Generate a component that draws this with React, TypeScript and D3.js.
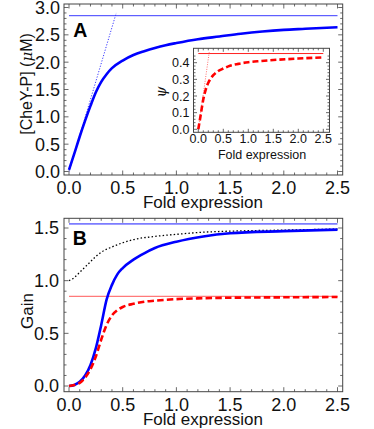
import React from 'react';
import { scaleLinear, line, curveMonotoneX, range, format } from 'd3';

// tick labels
const xTicks = [0, 0.5, 1, 1.5, 2, 2.5];
const yTicksA = [0, 0.5, 1, 1.5, 2, 2.5, 3];
const yTicksInset = [0, 0.1, 0.2, 0.3, 0.4];
const yTicksB = [0, 0.5, 1, 1.5];

// panel A: [CheY-P] vs fold expression
const foldA = [0, 0.05, 0.1, 0.15, 0.2, 0.25, 0.3, 0.35, 0.4, 0.5, 0.6, 0.7, 0.8, 0.9, 1.0, 1.2, 1.4, 1.6, 1.8, 2.0, 2.2, 2.5];
const cheyP = [0.03, 0.33, 0.64, 0.93, 1.2, 1.45, 1.64, 1.78, 1.89, 2.03, 2.13, 2.2, 2.26, 2.31, 2.35, 2.42, 2.47, 2.52, 2.56, 2.59, 2.61, 2.64];
const cheyPMax = 2.85;
const tangentA = [[0, 0], [0.44, 2.9]];

// inset: psi
const foldInset = [0, 0.05, 0.1, 0.15, 0.2, 0.25, 0.3, 0.4, 0.5, 0.6, 0.8, 1.0, 1.25, 1.5, 2.0, 2.5];
const psi = [0.0, 0.09, 0.18, 0.24, 0.28, 0.305, 0.325, 0.35, 0.365, 0.378, 0.393, 0.403, 0.41, 0.416, 0.425, 0.432];
const psiMax = 0.455;
const tangentInset = [[0, 0], [0.22, 0.466]];

// panel B: gain
const foldB = [0, 0.05, 0.1, 0.15, 0.2, 0.25, 0.3, 0.35, 0.4, 0.45, 0.5, 0.6, 0.7, 0.8, 1.0, 1.25, 1.5, 2.0, 2.5];
const gainBlue = [0.0, 0.01, 0.04, 0.1, 0.2, 0.36, 0.58, 0.82, 0.96, 1.06, 1.12, 1.2, 1.26, 1.31, 1.37, 1.42, 1.45, 1.47, 1.485];
const gainRed = [0.0, 0.01, 0.03, 0.08, 0.16, 0.28, 0.44, 0.58, 0.67, 0.72, 0.75, 0.78, 0.8, 0.81, 0.825, 0.833, 0.838, 0.842, 0.845];
const foldBlack = [0, 0.05, 0.1, 0.15, 0.2, 0.25, 0.3, 0.4, 0.5, 0.6, 0.8, 1.0, 1.25, 1.5, 2.0, 2.5];
const gainBlack = [1.0, 1.03, 1.08, 1.13, 1.18, 1.23, 1.27, 1.32, 1.36, 1.39, 1.42, 1.44, 1.46, 1.47, 1.48, 1.49];
const gainBlueMax = 1.54;
const gainRedMax = 0.85;

const FONT = '"Liberation Sans", Arial, sans-serif';
const FRAME = '#444';
const fmt = format('.1f');

function Frame({ box, xs, ys, xMajor, xMinor, yMajor, yMinor, big, small }) {
  const [l, r, t, b] = box;
  const tk = [];
  xMinor.forEach((v, i) => {
    const len = xMajor.some((m) => Math.abs(m - v) < 1e-9) ? big : small;
    tk.push(<line key={'xb' + i} x1={xs(v)} x2={xs(v)} y1={b} y2={b - len} />);
    tk.push(<line key={'xt' + i} x1={xs(v)} x2={xs(v)} y1={t} y2={t + len} />);
  });
  yMinor.forEach((v, i) => {
    const len = yMajor.some((m) => Math.abs(m - v) < 1e-9) ? big : small;
    tk.push(<line key={'yl' + i} x1={l} x2={l + len} y1={ys(v)} y2={ys(v)} />);
    tk.push(<line key={'yr' + i} x1={r} x2={r - len} y1={ys(v)} y2={ys(v)} />);
  });
  return (
    <g stroke={FRAME} strokeWidth={0.8} fill="none">
      {tk}
      <rect x={l} y={t} width={r - l} height={b - t} strokeWidth={1} />
    </g>
  );
}

function pathOf(xsArr, ysArr, xs, ys) {
  const gen = line().x((d) => xs(d[0])).y((d) => ys(d[1])).curve(curveMonotoneX);
  return gen(xsArr.map((x, i) => [x, ysArr[i]]));
}

export default function App() {
  // panel A scales
  const xA = scaleLinear().domain([0, 2.5]).range([69, 337.5]);
  const yA = scaleLinear().domain([0, 3]).range([171.5, 7.5]);
  const boxA = [64, 342.7, 4, 175];

  // inset scales
  const xI = scaleLinear().domain([0, 2.5]).range([198.3, 323.3]);
  const yI = scaleLinear().domain([0, 0.4]).range([129.3, 62.7]);
  const boxI = [193.5, 329.5, 48.3, 132.3];

  // panel B scales
  const xB = scaleLinear().domain([0, 2.5]).range([69, 337.5]);
  const yB = scaleLinear().domain([0, 1.5]).range([386, 228]);
  const boxB = [64, 342.7, 218.3, 391.7];

  const xMinor = range(0, 2.5001, 0.1);

  return (
    <svg width={374} height={429} style={{ position: 'absolute', left: 0, top: 0, background: '#fff' }}>
      <defs>
        <clipPath id="clipA"><rect x={boxA[0]} y={boxA[2]} width={boxA[1] - boxA[0]} height={boxA[3] - boxA[2]} /></clipPath>
        <clipPath id="clipI"><rect x={boxI[0]} y={boxI[2]} width={boxI[1] - boxI[0]} height={boxI[3] - boxI[2]} /></clipPath>
        <clipPath id="clipB"><rect x={boxB[0]} y={boxB[2]} width={boxB[1] - boxB[0]} height={boxB[3] - boxB[2]} /></clipPath>
      </defs>

      {/* ---------- panel A ---------- */}
      <g clipPath="url(#clipA)" fill="none">
        <line x1={xA(0)} x2={xA(2.5)} y1={yA(cheyPMax)} y2={yA(cheyPMax)} stroke="#3a3aff" strokeWidth={1} />
        <line x1={xA(tangentA[0][0])} y1={yA(tangentA[0][1])} x2={xA(tangentA[1][0])} y2={yA(tangentA[1][1])}
          stroke="#3a3aff" strokeWidth={1} strokeDasharray="1.2,1.6" />
        <path d={pathOf(foldA, cheyP, xA, yA)} stroke="#0000ff" strokeWidth={2.6} />
      </g>
      <Frame box={boxA} xs={xA} ys={yA} xMajor={xTicks} xMinor={xMinor} yMajor={yTicksA}
        yMinor={range(0, 3.0001, 0.1)} big={4.5} small={2.5} />
      <g fontFamily={FONT} fontSize={18} fill="#111">
        {xTicks.map((v) => (
          <text key={'ax' + v} x={xA(v)} y={194} textAnchor="middle">{fmt(v)}</text>
        ))}
        {yTicksA.map((v) => (
          <text key={'ay' + v} x={60} y={yA(v)} dy="0.36em" textAnchor="end">{fmt(v)}</text>
        ))}
      </g>
      <text x={203} y={208} textAnchor="middle" fontFamily={FONT} fontSize={17} fill="#111">Fold expression</text>
      <text transform="translate(31.5,84) rotate(-90)" textAnchor="middle" fontFamily={FONT} fontSize={16} fill="#111">
        [CheY-P] (<tspan fontStyle="italic" fontFamily='"DejaVu Serif", serif' fontSize={15}>μ</tspan>M)
      </text>
      <text x={73.3} y={36.7} fontFamily={FONT} fontSize={19.5} fontWeight="bold" fill="#000">A</text>

      {/* ---------- inset ---------- */}
      <rect x={boxI[0]} y={boxI[2]} width={boxI[1] - boxI[0]} height={boxI[3] - boxI[2]} fill="#fff" />
      <g clipPath="url(#clipI)" fill="none">
        <line x1={xI(0)} x2={xI(2.5)} y1={yI(psiMax)} y2={yI(psiMax)} stroke="#ff2020" strokeWidth={1} />
        <line x1={xI(tangentInset[0][0])} y1={yI(tangentInset[0][1])} x2={xI(tangentInset[1][0])} y2={yI(tangentInset[1][1])}
          stroke="#ff6060" strokeWidth={0.9} strokeDasharray="1,1.4" />
        <path d={pathOf(foldInset, psi, xI, yI)} stroke="#ff0000" strokeWidth={2.6} strokeDasharray="6,3" />
      </g>
      <Frame box={boxI} xs={xI} ys={yI} xMajor={xTicks} xMinor={xMinor} yMajor={yTicksInset}
        yMinor={range(0, 0.4501, 0.02)} big={3.5} small={2} />
      <g fontFamily={FONT} fontSize={12.5} fill="#111">
        {xTicks.map((v) => (
          <text key={'ix' + v} x={xI(v)} y={143.3} textAnchor="middle">{fmt(v)}</text>
        ))}
        {yTicksInset.map((v) => (
          <text key={'iy' + v} x={189.5} y={yI(v)} dy="0.36em" textAnchor="end">{fmt(v)}</text>
        ))}
      </g>
      <text x={262} y={158.5} textAnchor="middle" fontFamily={FONT} fontSize={12.5} fill="#111">Fold expression</text>
      <text transform="translate(166,92) rotate(-90)" textAnchor="middle" fontFamily='"DejaVu Serif", serif'
        fontStyle="italic" fontSize={14} fill="#111">ψ</text>

      {/* ---------- panel B ---------- */}
      <g clipPath="url(#clipB)" fill="none">
        <line x1={xB(0)} x2={xB(2.5)} y1={yB(gainBlueMax)} y2={yB(gainBlueMax)} stroke="#7c7cff" strokeWidth={1.8} />
        <line x1={xB(0)} x2={xB(2.5)} y1={yB(gainRedMax)} y2={yB(gainRedMax)} stroke="#ff7a7a" strokeWidth={1.3} />
        <path d={pathOf(foldBlack, gainBlack, xB, yB)} stroke="#000" strokeWidth={1.3} strokeDasharray="1.5,2.2" />
        <path d={pathOf(foldB, gainBlue, xB, yB)} stroke="#0000ff" strokeWidth={2.6} />
        <path d={pathOf(foldB, gainRed, xB, yB)} stroke="#ff0000" strokeWidth={2.6} strokeDasharray="6.5,3.2" />
      </g>
      <Frame box={boxB} xs={xB} ys={yB} xMajor={xTicks} xMinor={xMinor} yMajor={yTicksB}
        yMinor={range(0, 1.5001, 0.1)} big={4.5} small={2.5} />
      <g fontFamily={FONT} fontSize={18} fill="#111">
        {xTicks.map((v) => (
          <text key={'bx' + v} x={xB(v)} y={410.5} textAnchor="middle">{fmt(v)}</text>
        ))}
        {yTicksB.map((v) => (
          <text key={'by' + v} x={59} y={yB(v)} dy="0.36em" textAnchor="end">{fmt(v)}</text>
        ))}
      </g>
      <text x={203} y={424.5} textAnchor="middle" fontFamily={FONT} fontSize={17} fill="#111">Fold expression</text>
      <text transform="translate(33,311) rotate(-90)" textAnchor="middle" fontFamily={FONT} fontSize={17} fill="#111">Gain</text>
      <text x={72.7} y={245} fontFamily={FONT} fontSize={19.5} fontWeight="bold" fill="#000">B</text>
    </svg>
  );
}
